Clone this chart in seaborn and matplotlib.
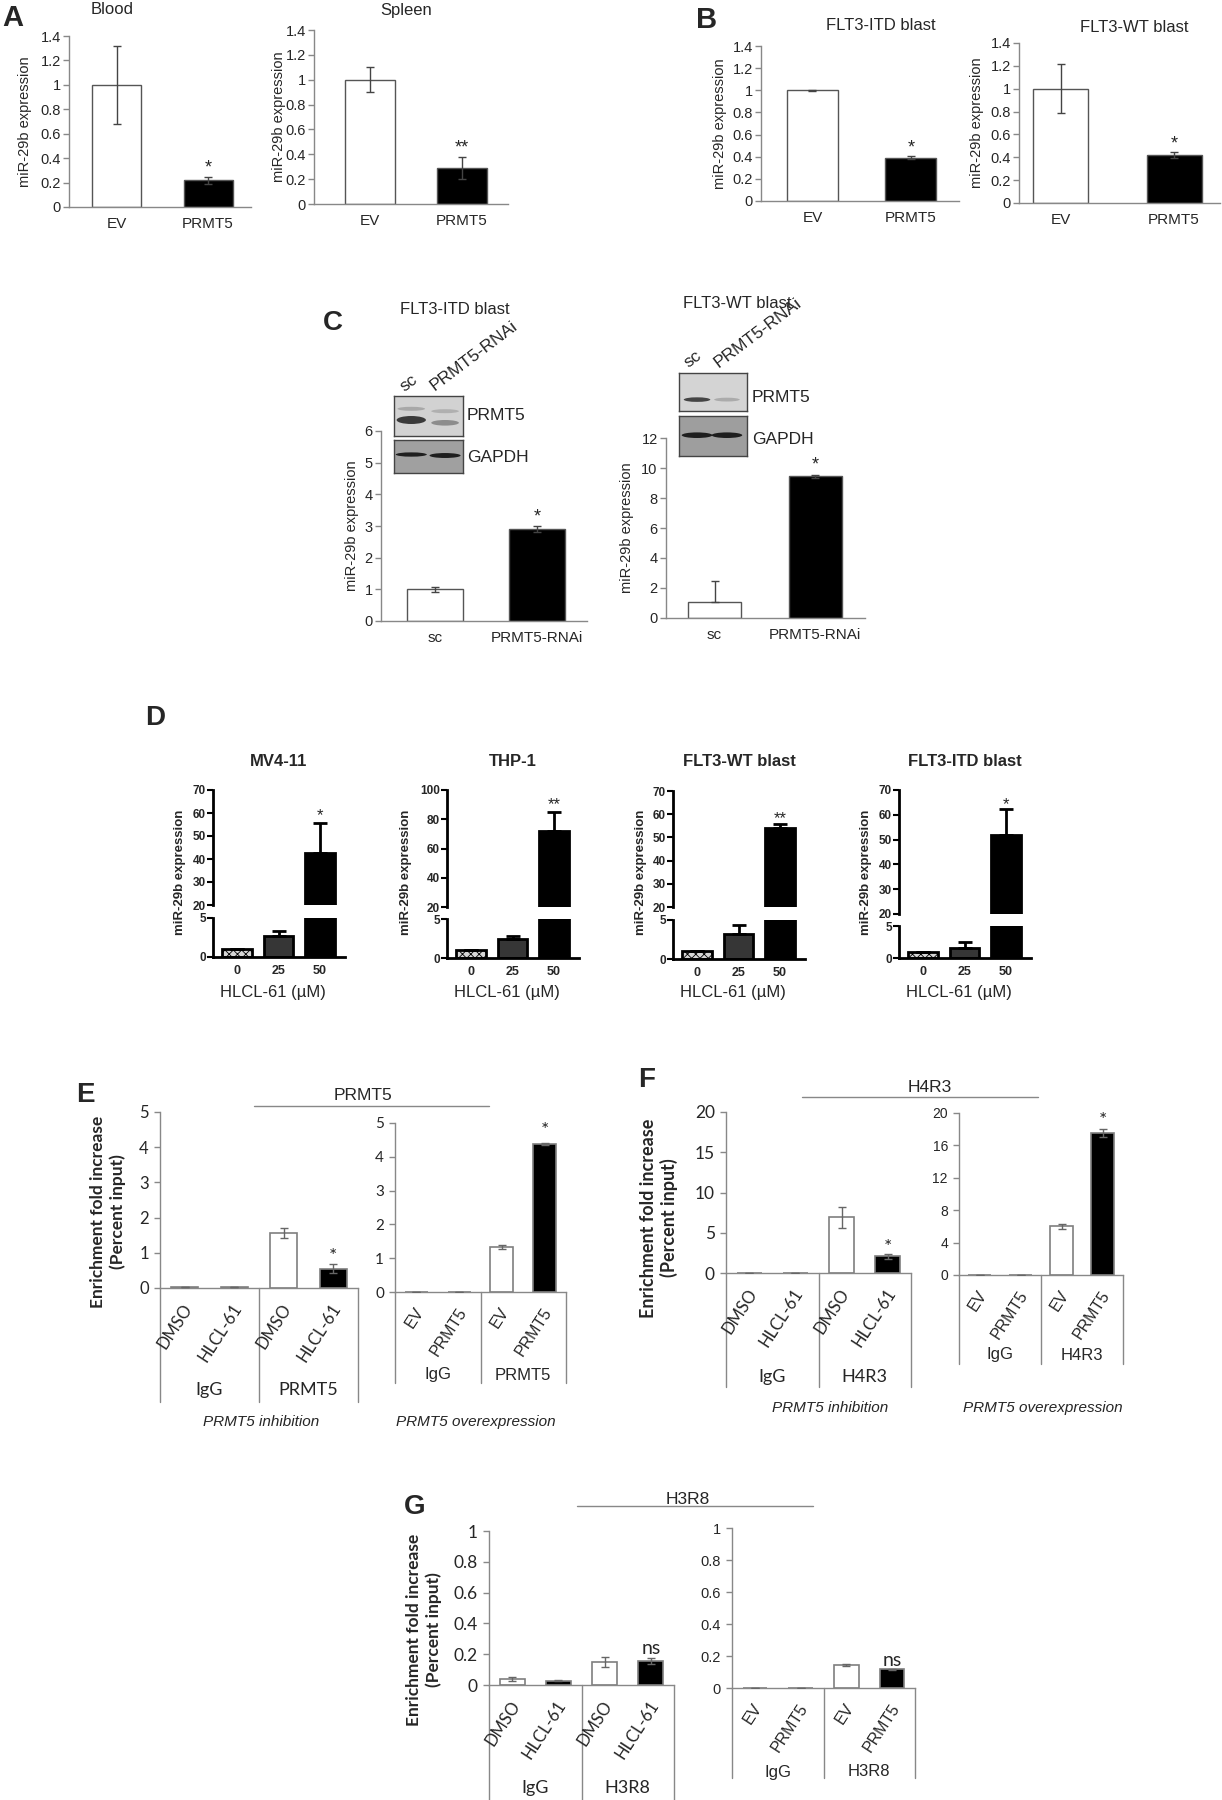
import numpy as np
import pandas as pd
import matplotlib
matplotlib.use('Agg')
import matplotlib.pyplot as plt
from matplotlib.patches import Ellipse
from matplotlib.ticker import FuncFormatter
import seaborn as sns

sns.set_style('white')
ARIAL = ['Liberation Sans', 'DejaVu Sans']
CALIBRI = ['Lato', 'DejaVu Sans']
plt.rcParams['font.family'] = ARIAL
plt.rcParams['hatch.linewidth'] = 0.6

# ---------------- data ----------------
# A
a_cats = ['EV', 'PRMT5']
blood_vals = [1.0, 0.22]
blood_err = [0.32, 0.028]
spleen_vals = [1.0, 0.29]
spleen_err = [0.10, 0.09]
# B
b_cats = ['EV', 'PRMT5']
b_itd_vals = [1.0, 0.39]
b_itd_err = [0.004, 0.015]
b_wt_vals = [1.0, 0.42]
b_wt_err = [0.215, 0.03]
# C
c_cats = ['sc', 'PRMT5-RNAi']
c_itd_vals = [1.0, 2.9]
c_itd_err = [0.07, 0.09]
c_wt_vals = [1.04, 9.44]
c_wt_err_lo = [0.0, 0.1]
c_wt_err_hi = [1.43, 0.1]
# D
d_doses = ['0', '25', '50']
d_titles = ['MV4-11', 'THP-1', 'FLT3-WT blast', 'FLT3-ITD blast']
d_mv4 = [1.0, 2.7, 42.7]
d_mv4_err = [0.0, 0.6, 13.0]
d_thp = [1.0, 2.4, 72.0]
d_thp_err = [0.0, 0.4, 13.0]
d_wt = [1.0, 3.2, 54.0]
d_wt_err = [0.0, 1.15, 1.8]
d_itd = [1.0, 1.5, 52.0]
d_itd_err = [0.0, 1.05, 10.3]
d_stars = ['*', '**', '**', '*']
d_star_y = [59, 90, 58, 64]
d_upper_max = [70, 100, 70, 70]
d_upper_step = [10, 20, 10, 10]
# E-G (ChIP)
inh_cats = ['DMSO', 'HLCL-61', 'DMSO', 'HLCL-61']
ov_cats = ['EV', 'PRMT5', 'EV', 'PRMT5']
e_groups = ['IgG', 'PRMT5']
f_groups = ['IgG', 'H4R3']
g_groups = ['IgG', 'H3R8']
e_inh_vals = [0.03, 0.02, 1.57, 0.55]
e_inh_err = [0.005, 0.004, 0.14, 0.13]
e_ov_vals = [0.005, 0.005, 1.32, 4.38]
e_ov_err = [0.0, 0.0, 0.06, 0.02]
f_inh_vals = [0.04, 0.03, 6.9, 2.05]
f_inh_err = [0.0, 0.0, 1.35, 0.25]
f_ov_vals = [0.03, 0.03, 6.0, 17.5]
f_ov_err = [0.0, 0.0, 0.35, 0.5]
g_inh_vals = [0.037, 0.028, 0.152, 0.155]
g_inh_err = [0.012, 0.004, 0.033, 0.02]
g_ov_vals = [0.002, 0.002, 0.146, 0.118]
g_ov_err = [0.0, 0.0, 0.007, 0.003]

W, H = 1222, 1800
fig = plt.figure(figsize=(W / 100, H / 100), dpi=100)


def add_ax(x0, x1, ytop, ybot):
    return fig.add_axes([x0 / W, 1 - ybot / H, (x1 - x0) / W, (ybot - ytop) / H])


def ftext(x, y, s, **kw):
    return fig.text(x / W, 1 - y / H, s, **kw)


def fline(xs, ys, **kw):
    fig.add_artist(plt.Line2D([x / W for x in xs], [1 - y / H for y in ys], **kw))


def to_px(ax, x, y):
    dx, dy = ax.transData.transform((x, y))
    return dx, H - dy


def draw_bars(ax, keys, vals, colors, width, edge, lw):
    df = pd.DataFrame({'key': keys, 'val': vals})
    sns.barplot(data=df, x='key', y='val', hue='key', order=keys, hue_order=keys,
                palette=dict(zip(keys, colors)), legend=False, width=width,
                edgecolor=edge, linewidth=lw, errorbar=None, saturation=1, ax=ax)
    ax.set_xlabel('')
    ax.set_ylabel('')


def simple_panel(axis_x, end_x, y_top, y_zero, c0, c1, bar_px, cats, vals, err_lo, err_hi,
                 ymax, ystep, title, title_xy, ylabel_x, star, star_y):
    sp = c1 - c0
    ax = add_ax(axis_x, end_x, y_top, y_zero)
    draw_bars(ax, list(cats), vals, ['white', 'black'], bar_px / sp, '#555555', 1.0)
    ax.errorbar(range(len(vals)), vals, yerr=[err_lo, err_hi], fmt='none', ecolor='#444444',
                elinewidth=1, capsize=3, capthick=1, zorder=5)
    ax.set_xlim(-(c0 - axis_x) / sp, 1 + (end_x - c1) / sp)
    ax.set_ylim(0, ymax)
    ax.set_yticks(np.arange(0, ymax + 1e-9, ystep))
    ax.yaxis.set_major_formatter(FuncFormatter(lambda v, p: f'{v:g}'))
    ax.set_xticks(range(len(cats)))
    ax.set_xticklabels(cats)
    for s in ['top', 'right']:
        ax.spines[s].set_visible(False)
    for s in ['left', 'bottom']:
        ax.spines[s].set_color('#888888')
        ax.spines[s].set_linewidth(1)
    ax.tick_params(axis='y', direction='out', length=4, width=1, color='#888888',
                   labelsize=10.5, pad=2, left=True)
    ax.tick_params(axis='x', length=0, labelsize=11, pad=7)
    ax.set_facecolor('none')
    ax.text(1, star_y, star, ha='center', va='center', fontsize=13)
    ftext(title_xy[0], title_xy[1], title, ha='center', va='center', fontsize=12)
    ftext(ylabel_x, (y_top + y_zero) / 2, 'miR-29b expression', rotation=90,
          ha='center', va='center', fontsize=10.5)
    return ax


def blot(x0, x1, y0, y1, bg, bands):
    ax = add_ax(x0, x1, y0, y1)
    ax.set_xlim(0, 2)
    ax.set_ylim(0, 1)
    ax.set_facecolor(bg)
    for cx, cy, w, h, col in bands:
        ax.add_patch(Ellipse((cx, cy), w, h, color=col, lw=0))
    ax.set_xticks([])
    ax.set_yticks([])
    for s in ax.spines.values():
        s.set_visible(True)
        s.set_color('#444444')
        s.set_linewidth(1)


def dose_panel(c0, y_low, y_up, vals, err, umax, ustep, title, star, star_y, ylab_off):
    sp = 41.5
    axis_x = c0 - 24
    end_x = c0 + 2 * sp + 25
    xlim = (-24 / sp, 2 + 25 / sp)
    keys = list(d_doses)
    colors = ['#d6d6d6', '#363636', '#000000']
    low = add_ax(axis_x, end_x, y_low[1], y_low[0])
    up = add_ax(axis_x, end_x, y_up[1], y_up[0])
    for ax, lim in [(low, (0, 5)), (up, (20, umax))]:
        draw_bars(ax, keys, vals, colors, 0.7, 'black', 2)
        ax.patches[0].set_hatch('xxxx')
        ax.errorbar(range(3), vals, yerr=[[0] * 3, err], fmt='none', ecolor='black',
                    elinewidth=2, capsize=5, capthick=2, zorder=5)
        ax.set_xlim(xlim)
        ax.set_ylim(lim)
        ax.set_facecolor('none')
        for s in ['top', 'right']:
            ax.spines[s].set_visible(False)
        ax.spines['left'].set_color('black')
        ax.spines['left'].set_linewidth(2)
        ax.tick_params(axis='y', direction='out', length=4, width=1.5, color='black',
                       labelsize=8.5, pad=1, left=True)
    low.set_yticks([0, 5])
    up.set_yticks(range(20, umax + 1, ustep))
    for lab in low.get_yticklabels() + up.get_yticklabels():
        lab.set_fontweight('bold')
    low.spines['bottom'].set_color('black')
    low.spines['bottom'].set_linewidth(2)
    up.spines['bottom'].set_visible(False)
    up.set_xticks([])
    low.set_xticks(range(3))
    low.set_xticklabels(d_doses, fontweight='bold', fontsize=9)
    low.tick_params(axis='x', length=0, pad=6)
    up.text(2, star_y, star, ha='center', va='center', fontsize=12)
    mid = (axis_x + end_x) / 2
    ftext(mid, 762, title, ha='center', va='center', fontsize=12, fontweight='bold')
    ftext(axis_x - ylab_off, 872, 'miR-29b expression', rotation=90, ha='center',
          va='center', fontsize=9.5, fontweight='bold')
    ftext(mid - 6, 992, 'HLCL-61 (\u00b5M)', ha='center', va='center', fontsize=12)


def chip_panel(axis_x, end_x, y_top, y_zero, ymax, ystep, cats, groups, vals, err,
               tick_fam, tick_size, lab_fam, lab_size, grp_size, sep_bottom, grp_y,
               star, star_y):
    n = len(cats)
    ax = add_ax(axis_x, end_x, y_top, y_zero)
    keys = [f'{groups[i // 2]}|{c}|{i}' for i, c in enumerate(cats)]
    draw_bars(ax, keys, vals, ['white', 'black', 'white', 'black'], 0.54, '#7f7f7f', 1.2)
    ax.errorbar(range(n), vals, yerr=err, fmt='none', ecolor='#666666', elinewidth=1,
                capsize=3, capthick=1, zorder=5)
    ax.set_xlim(-0.5, n - 0.5)
    ax.set_ylim(0, ymax)
    ax.set_yticks(np.arange(0, ymax + 1e-9, ystep))
    ax.yaxis.set_major_formatter(FuncFormatter(lambda v, p: f'{v:g}'))
    ax.set_xticks([])
    ax.set_facecolor('none')
    for s in ['top', 'right']:
        ax.spines[s].set_visible(False)
    for s in ['left', 'bottom']:
        ax.spines[s].set_color('#888888')
        ax.spines[s].set_linewidth(1)
    ax.tick_params(axis='y', direction='out', length=4, width=1, color='#888888',
                   labelsize=tick_size, pad=4, left=True)
    for lab in ax.get_yticklabels():
        lab.set_family(tick_fam)
    for b in [-0.5, 1.5, 3.5]:
        px, _ = to_px(ax, b, 0)
        fline([px, px], [y_zero, sep_bottom], color='#888888', lw=1)
    for i, c in enumerate(cats):
        px, _ = to_px(ax, i, 0)
        ftext(px + 4, y_zero + 17, c, rotation=57, ha='right', va='center',
              rotation_mode='anchor', family=lab_fam, fontsize=lab_size)
    for gi, g in zip([0.5, 2.5], groups):
        px, _ = to_px(ax, gi, 0)
        ftext(px, grp_y, g, ha='center', va='center', family=lab_fam, fontsize=grp_size)
    ax.text(3, star_y, star, ha='center', va='center', fontsize=14, family=CALIBRI)
    return ax


# ---------------- panel A ----------------
ftext(13, 18, 'A', fontsize=21, fontweight='bold', ha='center', va='center')
simple_panel(69, 251, 36, 207, 116.5, 208, 49, a_cats, blood_vals, blood_err, blood_err,
             1.4, 0.2, 'Blood', (112, 10), 25, '*', 0.32)
simple_panel(314, 508, 30, 204, 370, 462, 50, a_cats, spleen_vals, spleen_err, spleen_err,
             1.4, 0.2, 'Spleen', (406, 10), 279, '**', 0.45)

# ---------------- panel B ----------------
ftext(707, 20, 'B', fontsize=21, fontweight='bold', ha='center', va='center')
simple_panel(761, 959, 46, 201, 812.5, 911, 51, b_cats, b_itd_vals, b_itd_err, b_itd_err,
             1.4, 0.2, 'FLT3-ITD blast', (881, 25), 720, '*', 0.48)
simple_panel(1019, 1220, 43, 203, 1060.5, 1174, 55, b_cats, b_wt_vals, b_wt_err, b_wt_err,
             1.4, 0.2, 'FLT3-WT blast', (1134, 27), 977, '*', 0.52)

# ---------------- panel C ----------------
ftext(333, 323, 'C', fontsize=20, fontweight='bold', ha='center', va='center')
simple_panel(381, 587, 431, 621, 435, 537, 56, c_cats, c_itd_vals, c_itd_err, c_itd_err,
             6, 1, 'FLT3-ITD blast', (455, 310), 352, '*', 3.3)
simple_panel(666, 865, 438, 618, 714.5, 815, 53, c_cats, c_wt_vals, c_wt_err_lo, c_wt_err_hi,
             12, 2, 'FLT3-WT blast', (737, 303), 627, '*', 10.2)

# western blot insets
blot(394, 463, 396, 436, '#d2d2d2',
     [(0.5, 0.4, 0.85, 0.2, '#3a3a3a'), (0.5, 0.68, 0.8, 0.1, '#a8a8a8'),
      (1.48, 0.33, 0.8, 0.14, '#8c8c8c'), (1.48, 0.62, 0.8, 0.1, '#b0b0b0')])
blot(394, 463, 440, 473, '#a0a0a0',
     [(0.5, 0.56, 0.9, 0.13, '#1e1e1e'), (1.48, 0.53, 0.9, 0.15, '#1e1e1e')])
blot(679, 747, 373, 411, '#d4d4d4',
     [(0.53, 0.3, 0.78, 0.12, '#454545'), (1.41, 0.3, 0.75, 0.1, '#ababab')])
blot(679, 747, 416, 456, '#9e9e9e',
     [(0.53, 0.52, 0.9, 0.14, '#1e1e1e'), (1.41, 0.52, 0.9, 0.14, '#1e1e1e')])
for x, y, s in [(467, 415, 'PRMT5'), (467, 457, 'GAPDH'), (752, 397, 'PRMT5'), (752, 440, 'GAPDH')]:
    ftext(x, y, s, ha='left', va='center', fontsize=12.5)
for x, y, s in [(404, 392, 'sc'), (435, 391, 'PRMT5-RNAi'), (688, 368, 'sc'), (719, 368, 'PRMT5-RNAi')]:
    ftext(x, y, s, ha='left', va='baseline', rotation=37, rotation_mode='anchor', fontsize=12.5)

# ---------------- panel D ----------------
ftext(155, 718, 'D', fontsize=20, fontweight='bold', ha='center', va='center')
d_sets = [(d_mv4, d_mv4_err), (d_thp, d_thp_err), (d_wt, d_wt_err), (d_itd, d_itd_err)]
d_c0 = [237, 471, 697, 923]
d_ylow = [(957, 918), (958, 919), (959, 920), (958, 926)]
d_yup = [(905, 790), (907, 790), (907, 791), (914, 790)]
d_yoff = [33, 41, 32, 33]
for k in range(4):
    dose_panel(d_c0[k], d_ylow[k], d_yup[k], d_sets[k][0], d_sets[k][1], d_upper_max[k],
               d_upper_step[k], d_titles[k], d_stars[k], d_star_y[k], d_yoff[k])

# ---------------- panels E-G ----------------
ylab = 'Enrichment fold increase\n(Percent input)'
# E
ftext(85, 1095, 'E', fontsize=20, fontweight='bold', ha='center', va='center')
ftext(108, 1212, ylab, rotation=90, ha='center', va='center', fontweight='bold',
      family=CALIBRI, fontsize=12.5, linespacing=1.2, multialignment='center')
chip_panel(160, 358, 1112, 1288, 5, 1, inh_cats, e_groups, e_inh_vals, e_inh_err,
           CALIBRI, 12, CALIBRI, 12, 13, 1402, 1390, '*', 0.9)
chip_panel(395, 566, 1123, 1292, 5, 1, ov_cats, e_groups, e_ov_vals, e_ov_err,
           CALIBRI, 11, ARIAL, 11.5, 12, 1383, 1375, '*', 4.78)
fline([254, 489], [1106, 1106], color='#888888', lw=1)
ftext(363, 1096, 'PRMT5', ha='center', va='center', fontsize=12.5)
ftext(261, 1422, 'PRMT5 inhibition', ha='center', va='center', fontsize=11, style='italic')
ftext(476, 1422, 'PRMT5 overexpression', ha='center', va='center', fontsize=11, style='italic')

# F
ftext(647, 1080, 'F', fontsize=20, fontweight='bold', ha='center', va='center')
ftext(659, 1218, ylab, rotation=90, ha='center', va='center', fontweight='bold',
      family=CALIBRI, fontsize=13, linespacing=1.2, multialignment='center')
chip_panel(726, 911, 1112, 1273, 20, 5, inh_cats, f_groups, f_inh_vals, f_inh_err,
           CALIBRI, 12.5, CALIBRI, 12, 13, 1387, 1377, '*', 3.2)
chip_panel(959, 1123, 1113, 1275, 20, 4, ov_cats, f_groups, f_ov_vals, f_ov_err,
           ARIAL, 10, ARIAL, 11.5, 12, 1364, 1355, '*', 19.1)
fline([802, 1038], [1097, 1097], color='#888888', lw=1)
ftext(930, 1088, 'H4R3', ha='center', va='center', fontsize=12.5)
ftext(830, 1408, 'PRMT5 inhibition', ha='center', va='center', fontsize=11, style='italic')
ftext(1043, 1408, 'PRMT5 overexpression', ha='center', va='center', fontsize=11, style='italic')

# G
ftext(415, 1507, 'G', fontsize=20, fontweight='bold', ha='center', va='center')
ftext(424, 1630, ylab, rotation=90, ha='center', va='center', fontweight='bold',
      family=CALIBRI, fontsize=12.5, linespacing=1.2, multialignment='center')
chip_panel(489, 674, 1531, 1685, 1, 0.2, inh_cats, g_groups, g_inh_vals, g_inh_err,
           CALIBRI, 12.5, CALIBRI, 12, 13, 1800, 1788, 'ns', 0.235)
chip_panel(732, 915, 1528, 1688, 1, 0.2, ov_cats, g_groups, g_ov_vals, g_ov_err,
           ARIAL, 10.5, ARIAL, 11.5, 12, 1778, 1772, 'ns', 0.17)
fline([577, 813], [1506, 1506], color='#888888', lw=1)
ftext(688, 1499, 'H3R8', ha='center', va='center', fontsize=12.5)

fig.savefig('out.png', dpi=100)
